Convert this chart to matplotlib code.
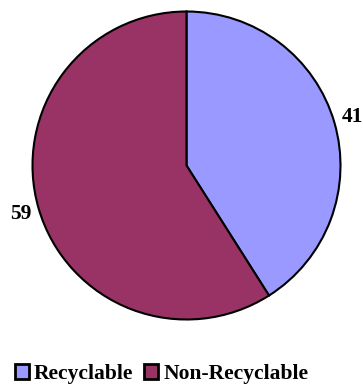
import matplotlib.pyplot as plt

labels = ["Recyclable", "Non-Recyclable"]
values = [41, 59]
colors = ["#9999FF", "#993366"]

plt.rcParams["font.family"] = ["Liberation Serif", "DejaVu Serif"]

fig = plt.figure(figsize=(3.63, 3.88), dpi=100)
ax = fig.add_axes([32.5 / 363, (388 - 319.5) / 388, 308 / 363, 308 / 388])

wedges, texts = ax.pie(
    values,
    colors=colors,
    startangle=90,
    counterclock=False,
    labels=[str(v) for v in values],
    labeldistance=1.12,
    wedgeprops=dict(edgecolor="black", linewidth=1.5),
    textprops=dict(fontsize=15.5, fontweight="bold", color="black"),
)
for t in texts:
    t.set_horizontalalignment("center")
    t.set_verticalalignment("center")
ax.set_xlim(-1, 1)
ax.set_ylim(-1, 1)
ax.set_aspect("equal")

leg = fig.legend(
    wedges, labels,
    loc="center", bbox_to_anchor=(161.5 / 363, 1 - 374 / 388),
    ncol=2, frameon=False,
    prop=dict(size=15.5, weight="bold"),
    handlelength=0.65, handleheight=0.65, handletextpad=0.25,
    columnspacing=0.5,
)
for h in leg.legend_handles:
    h.set_linewidth(2)

fig.savefig("out.png", dpi=100)
